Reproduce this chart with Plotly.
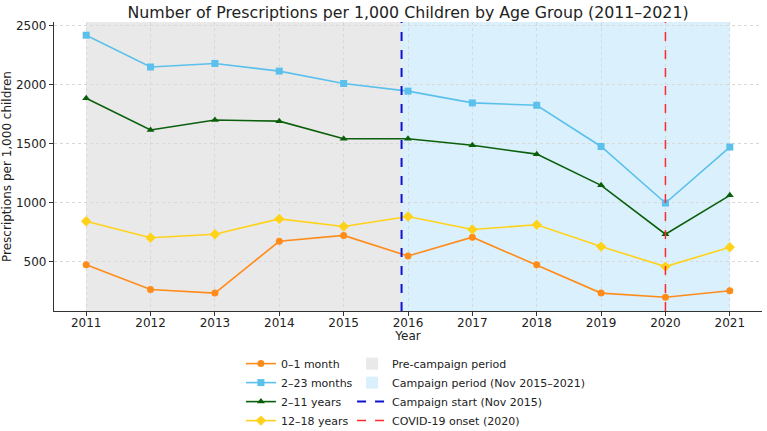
import plotly.graph_objects as go

years = [2011, 2012, 2013, 2014, 2015, 2016, 2017, 2018, 2019, 2020, 2021]
age_0_1m = [470, 260, 230, 670, 720, 545, 705, 470, 230, 195, 250]
age_2_23m = [2420, 2150, 2180, 2115, 2010, 1945, 1845, 1825, 1475, 995, 1470]
age_2_11y = [1885, 1615, 1700, 1690, 1540, 1540, 1485, 1410, 1145, 730, 1060]
age_12_18y = [840, 700, 730, 860, 795, 880, 770, 810, 625, 455, 620]

campaign_start = 2015.9
covid_onset = 2020
period_start = 2011
period_end = 2021

series = [
    ("0–1 month", age_0_1m, "#FF8C1A", "circle", 7),
    ("2–23 months", age_2_23m, "#5BC0EB", "square", 7),
    ("2–11 years", age_2_11y, "#0B5F0B", "triangle-up", 7),
    ("12–18 years", age_12_18y, "#FFD21A", "diamond", 8),
]

font_family = "DejaVu Sans"
fig = go.Figure()

for name, vals, color, sym, sz in series:
    fig.add_trace(go.Scatter(
        x=years, y=vals, mode="lines+markers", name=name,
        line=dict(color=color, width=1.6),
        marker=dict(symbol=sym, size=sz, color=color),
        legend="legend",
    ))

fig.add_shape(type="rect", xref="x", yref="paper", x0=period_start, x1=campaign_start,
              y0=0, y1=1, fillcolor="rgba(200,200,200,0.4)", line=dict(width=0),
              layer="below", showlegend=True, name="Pre-campaign period", legend="legend2")
fig.add_shape(type="rect", xref="x", yref="paper", x0=campaign_start, x1=period_end,
              y0=0, y1=1, fillcolor="rgba(135,206,250,0.3)", line=dict(width=0),
              layer="below", showlegend=True, name="Campaign period (Nov 2015–2021)", legend="legend2")
fig.add_shape(type="line", xref="x", yref="paper", x0=campaign_start, x1=campaign_start,
              y0=0, y1=1, line=dict(color="#1010D0", width=2, dash="dash"),
              showlegend=True, name="Campaign start (Nov 2015)", legend="legend2")
fig.add_shape(type="line", xref="x", yref="paper", x0=covid_onset, x1=covid_onset,
              y0=0, y1=1, line=dict(color="#FF2A2A", width=1.5, dash="dash"),
              showlegend=True, name="COVID-19 onset (2020)", legend="legend2")

fig.update_layout(
    width=767, height=431,
    margin=dict(l=54, r=5, t=22, b=120, autoexpand=False),
    paper_bgcolor="white", plot_bgcolor="white",
    font=dict(family=font_family, size=12, color="#222222"),
    title=dict(text="Number of Prescriptions per 1,000 Children by Age Group (2011–2021)",
               x=0.532, xanchor="center", y=0.985, yanchor="top",
               font=dict(size=15.8, color="#222222")),
    xaxis=dict(range=[2010.5, 2021.5], tickmode="array", tickvals=years,
               ticktext=[str(y) for y in years],
               showgrid=True, gridcolor="#d8d8d8", griddash="dot", gridwidth=1,
               showline=True, linecolor="#333333", linewidth=1.2,
               ticks="outside", ticklen=4, tickcolor="#333333",
               ticklabelstandoff=-4,
               zeroline=False,
               title=dict(text="Year", standoff=0, font=dict(size=12))),
    yaxis=dict(range=[78, 2532], tickmode="array", tickvals=[500, 1000, 1500, 2000, 2500],
               showgrid=True, gridcolor="#d8d8d8", griddash="dot", gridwidth=1,
               showline=True, linecolor="#333333", linewidth=1.2,
               ticks="outside", ticklen=4, tickcolor="#333333",
               zeroline=False,
               title=dict(text="Prescriptions per 1,000 children", standoff=8, font=dict(size=12))),
    legend=dict(x=0.264, y=0.19, xref="paper", yref="container", xanchor="left", yanchor="top",
                orientation="v", font=dict(size=11), bgcolor="rgba(0,0,0,0)", tracegroupgap=0),
    legend2=dict(x=0.421, y=0.19, xref="paper", yref="container", xanchor="left", yanchor="top",
                 orientation="v", font=dict(size=11), bgcolor="rgba(0,0,0,0)", tracegroupgap=0),
)

fig.write_html("out.html")
